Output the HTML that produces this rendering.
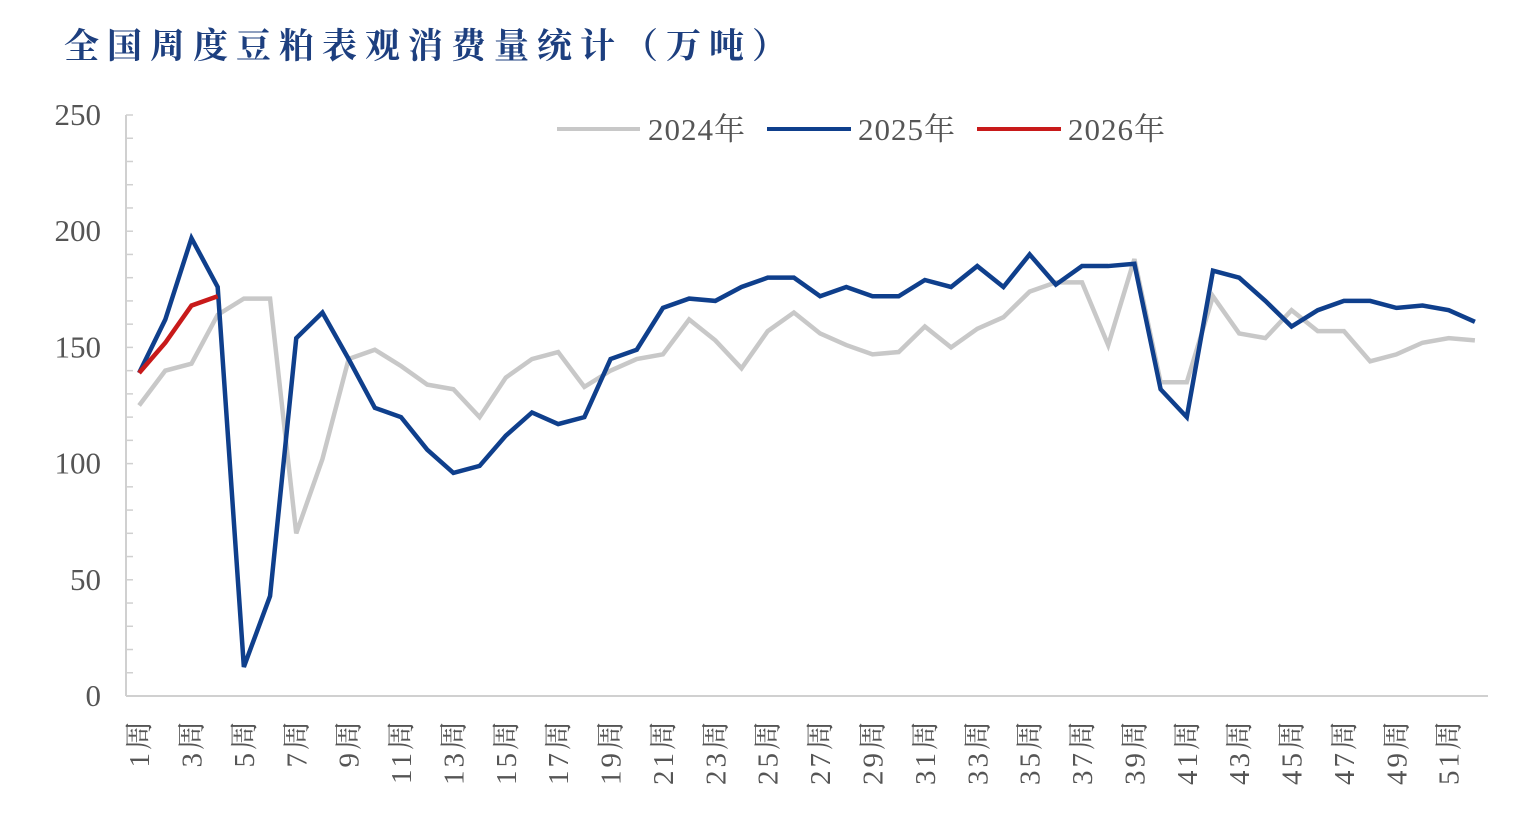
<!DOCTYPE html>
<html><head><meta charset="utf-8"><style>
body{margin:0;background:#fff;width:1526px;height:830px;overflow:hidden}
svg text{font-family:"Liberation Serif","Noto Serif CJK SC",serif}
</style></head><body>
<svg width="1526" height="830">
<text x="64" y="58" font-size="35" font-weight="bold" fill="#1d3f7f" style="font-family:'Liberation Serif','Noto Serif CJK SC',serif;letter-spacing:8px">全国周度豆粕表观消费量统计（万吨）</text>
<g id="axes"></g><g id="lines"></g>
<g>
<line x1="557" y1="129" x2="640" y2="129" stroke="#c8c8c8" stroke-width="4"/>
<text x="648" y="140" font-size="31" fill="#555" letter-spacing="1">2024年</text>
<line x1="767" y1="129" x2="851" y2="129" stroke="#0f3f8c" stroke-width="4"/>
<text x="858" y="140" font-size="31" fill="#555" letter-spacing="1">2025年</text>
<line x1="977" y1="129" x2="1061" y2="129" stroke="#c81a1a" stroke-width="4"/>
<text x="1068" y="140" font-size="31" fill="#555" letter-spacing="1">2026年</text>
</g>
</svg>
<script>
const yTicks=[0,50,100,150,200,250];
const s2024=[125,140,143,164,171,171,70,102,145,149,142,134,132,120,137,145,148,133,140,145,147,162,153,141,157,165,156,151,147,148,159,150,158,163,174,178,178,151,188,135,135,172,156,154,166,157,157,144,147,152,154,153];
const s2025=[139,162,197,176,12.5,43,154,165,145,124,120,106,96,99,112,122,117,120,145,149,167,171,170,176,180,180,172,176,172,172,179,176,185,176,190,177,185,185,186,132,120,183,180,170,159,166,170,170,167,168,166,161];
const s2026=[139,152,168,172];
const weeks=s2025.map((v,i)=>(i+1)+"周");
const NS="http://www.w3.org/2000/svg";
const x0=126,x1=1488,y0=696,yTop=115;
const bw=(x1-x0)/weeks.length;
const X=i=>x0+bw*(i+0.5);
const Y=v=>y0-(v/250)*(y0-yTop);
function mk(t,a,p){const e=document.createElementNS(NS,t);for(const k in a)e.setAttribute(k,a[k]);p.appendChild(e);return e;}
const ax=document.getElementById('axes');
let e=mk('line',{x1:x0,y1:y0,x2:x1,y2:y0,stroke:'#d0d0d0','stroke-width':2},ax);


e=mk('line',{x1:x0,y1:y0,x2:x0,y2:yTop,stroke:'#d0d0d0','stroke-width':2},ax);


for(let v=0;v<=250;v+=10){mk('line',{x1:x0,y1:Y(v),x2:x0+7,y2:Y(v),stroke:'#d0d0d0','stroke-width':1.5},ax);}
yTicks.forEach(v=>{const t=mk('text',{x:101,y:Y(v)+10,'font-size':31,fill:'#555','text-anchor':'end'},ax);t.textContent=v;

});
weeks.forEach((w,i)=>{if(i%2)return;const t=mk('text',{transform:`translate(${X(i)+10},${y0+22}) rotate(-90)`,'font-size':29,fill:'#555','text-anchor':'end','letter-spacing':3},ax);t.textContent=w;

});
const ln=document.getElementById('lines');
[[s2024,'#c8c8c8','line-2024'],[s2025,'#0f3f8c','line-2025'],[s2026,'#c81a1a','line-2026']].forEach(([s,c,n])=>{
const p=mk('polyline',{points:s.map((v,i)=>X(i)+','+Y(v)).join(' '),fill:'none',stroke:c,'stroke-width':4.5,'stroke-linejoin':'miter'},ln);

});
</script>
</body></html>
